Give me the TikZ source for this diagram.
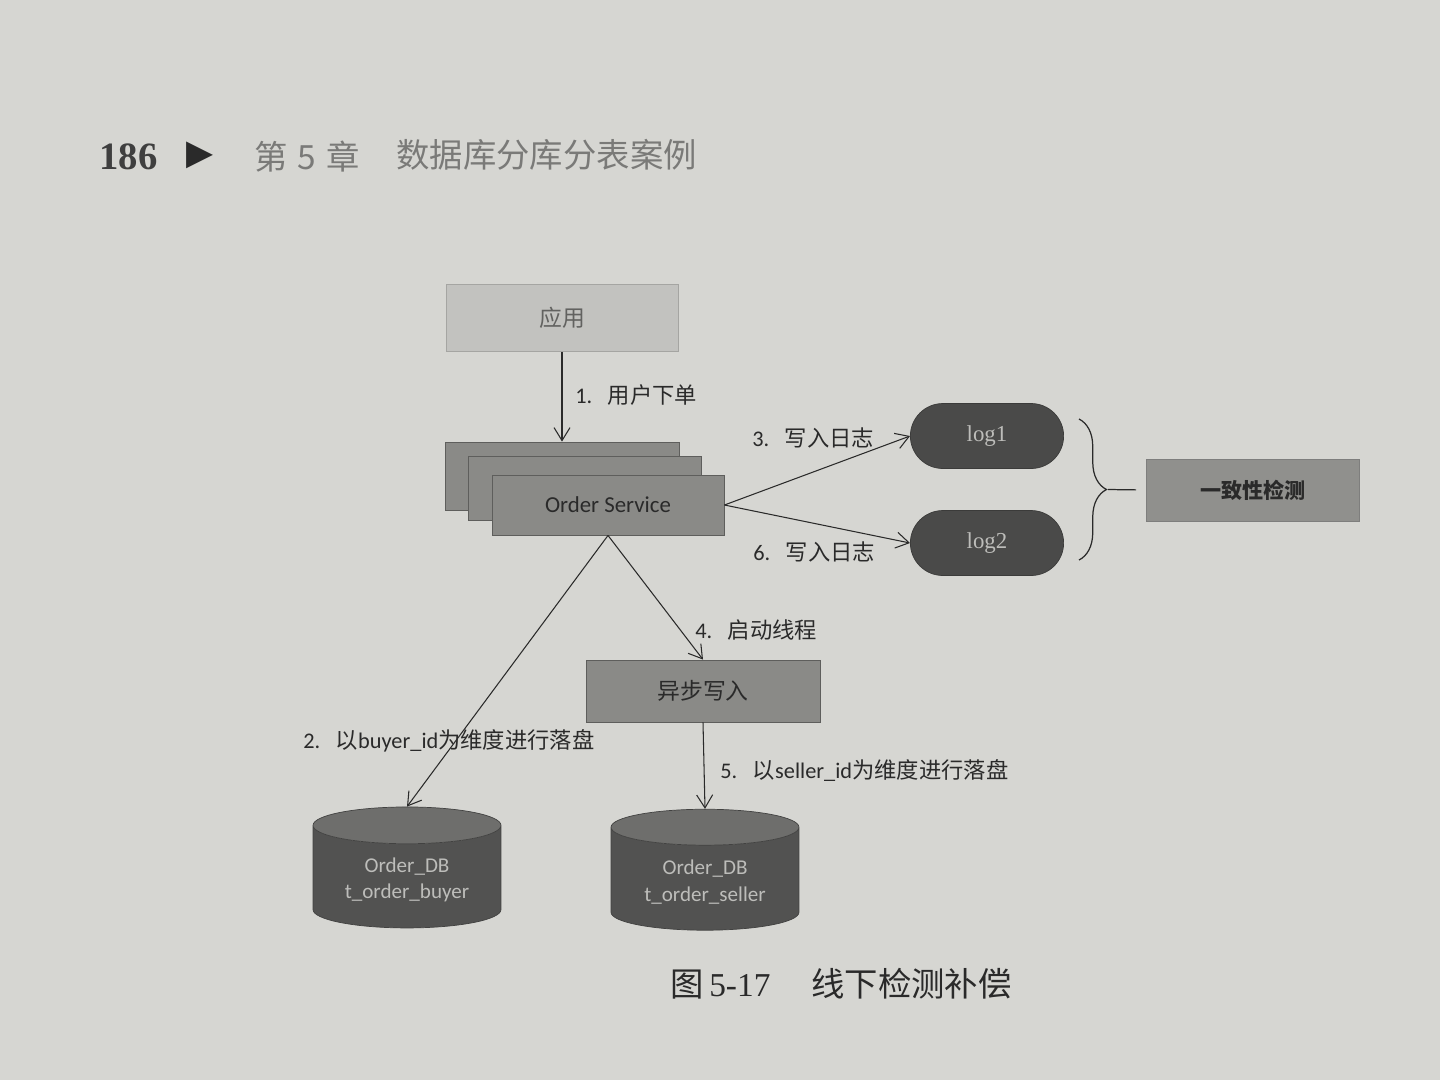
\documentclass[tikz,border=0pt]{standalone}
\usepackage{fontspec}
\setmainfont{Carlito}
\newfontfamily\cjk{Noto Sans CJK SC}
\newfontfamily\serifnum{Liberation Serif}
\newfontfamily\symfont{DejaVu Sans}
\usetikzlibrary{arrows.meta,shapes.geometric,shapes.misc,decorations.pathreplacing,calc}
\definecolor{bgcol}{HTML}{D6D6D2}
\definecolor{appfill}{HTML}{C2C2BF}
\definecolor{osfill}{HTML}{8A8A87}
\definecolor{osline}{HTML}{5E5E5C}
\definecolor{logfill}{HTML}{4A4A49}
\definecolor{logtext}{HTML}{BDBDBA}
\definecolor{dbbody}{HTML}{525251}
\definecolor{dbtop}{HTML}{6E6E6C}
\definecolor{ink}{HTML}{2A2A2A}
\definecolor{headgray}{HTML}{7A7A78}
\begin{document}
\begin{tikzpicture}[x=0.02cm,y=-0.02cm,
  gbox/.style={draw=osline, line width=0.5pt, inner sep=0pt},
  lbl/.style={font=\fontsize{12.7}{15}\selectfont, text=ink, anchor=west, inner sep=0pt},
  conn/.style={draw=ink, line width=0.6pt, -{Straight Barb[length=2.6mm,width=3.2mm,line width=0.6pt]}},
  logpill/.style={rounded rectangle, fill=logfill, draw=logfill!80!black, minimum width=3.3cm, minimum height=1.3cm,
     font=\serifnum\fontsize{13}{15}\selectfont, text=logtext},
  dbcyl/.style={cylinder, shape border rotate=90, aspect=0.27, draw=dbbody!80!black,
     cylinder uses custom fill, cylinder body fill=dbbody, cylinder end fill=dbtop,
     minimum width=3.76cm, minimum height=2.42cm, text=logtext, align=center,
     font=\fontsize{12}{15}\selectfont}
]
\fill[bgcol] (0,0) rectangle (1440,1080);
\useasboundingbox (0,0) rectangle (1440,1080);

% header
\node[anchor=west, inner sep=0pt, font=\serifnum\bfseries\fontsize{22}{24}\selectfont, text=ink!90] (pnum) at (99,157) {186};
\node[anchor=west, inner sep=0pt, font=\symfont\fontsize{20}{22}\selectfont, text=ink] (tri) at (186,155) {▶};
\node[anchor=west, inner sep=0pt, font=\cjk\fontsize{19}{22}\selectfont, text=headgray] (chap) at (254,157) {第\hspace{0.3em}5\hspace{0.3em}章};
\node[anchor=west, inner sep=0pt, font=\cjk\fontsize{19}{22}\selectfont, text=headgray] (title) at (396,155) {数据库分库分表案例};

% application
\node[gbox, draw=appfill!85!black, fill=appfill, minimum width=4.64cm, minimum height=1.34cm,
      font=\cjk\fontsize{13}{15}\selectfont, text=headgray!80!black] (app) at (562,318) {应用};

% order service stack
\node[gbox, fill=osfill, minimum width=4.68cm, minimum height=1.36cm] (os3) at (562,476) {};
\node[gbox, fill=osfill, minimum width=4.66cm, minimum height=1.28cm] (os2) at (585,488) {};
\node[gbox, fill=osfill, minimum width=4.64cm, minimum height=1.2cm,
      font=\fontsize{13}{15}\selectfont, text=ink] (os) at (608,505) {Order Service};

% logs
\node[logpill] (log1) at (987,436) {log1};
\node[logpill] (log2) at (987,543) {log2};

% consistency check
\node[gbox, fill=osfill!95!white, draw=osline!80, minimum width=4.26cm, minimum height=1.24cm,
      font=\cjk\bfseries\fontsize{12}{14}\selectfont, text=ink] (chk) at (1253,490) {一致性检测};

% async write
\node[gbox, fill=osfill, minimum width=4.68cm, minimum height=1.24cm,
      font=\cjk\fontsize{13}{15}\selectfont, text=ink] (async) at (703,691) {异步写入};

% databases
\node[dbcyl] (db1) at (407,880) {Order\_DB\\t\_order\_buyer};
\node[dbcyl] (db2) at (705,882) {Order\_DB\\t\_order\_seller};

% connectors
\draw[conn] (app.south) -- (os3.north);
\draw[conn] (os.east) -- (log1.west);
\draw[conn] (os.east) -- (log2.west);
\draw[conn] (os.south) -- (async.north);
\draw[conn] (os.south) -- (db1.top);
\draw[conn] (async.south) -- (db2.top);

% brace
\coordinate (btop) at (1079,419);
\coordinate (bbot) at (1079,560);
\draw[ink, line width=0.7pt, decorate, decoration={brace, amplitude=0.55cm, aspect=0.5}] (btop) -- (bbot);
\coordinate (btip) at (1108,489.5);
\draw[ink, line width=0.7pt, shorten >=0.2cm] (btip) -- (chk.west);

% labels
\node[lbl] (l1) at (575,395) {1.\hspace{0.7em}{\cjk 用户下单}};
\node[lbl] (l3) at (752,438) {3.\hspace{0.7em}{\cjk 写入日志}};
\node[lbl] (l6) at (753,552) {6.\hspace{0.7em}{\cjk 写入日志}};
\node[lbl] (l4) at (695,630) {4.\hspace{0.7em}{\cjk 启动线程}};
\node[lbl] (l2) at (303,741) {2.\hspace{0.7em}{\cjk 以}buyer\_id{\cjk 为维度进行落盘}};
\node[lbl] (l5) at (720,770) {5.\hspace{0.7em}{\cjk 以}seller\_id{\cjk 为维度进行落盘}};

% caption
\node[anchor=west, inner sep=0pt, font=\fontsize{19}{22}\selectfont, text=ink] (cap) at (670,984)
  {{\cjk 图}\,{\serifnum 5-17}\quad\ {\cjk 线下检测补偿}};
\end{tikzpicture}
\end{document}
